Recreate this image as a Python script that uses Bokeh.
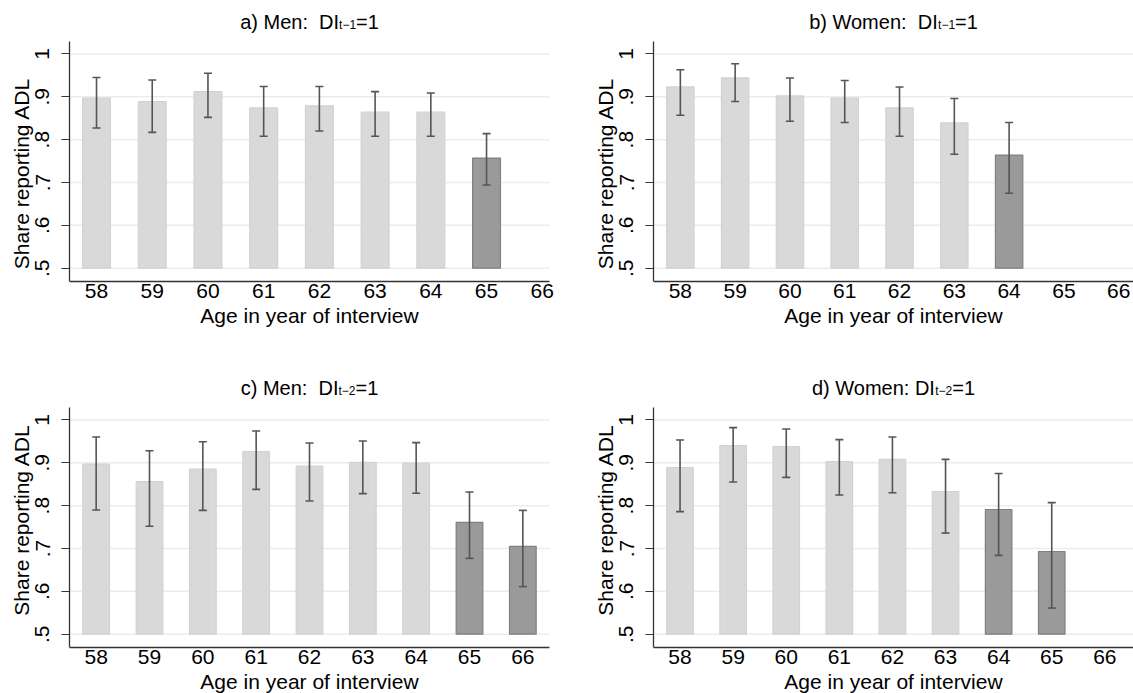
from bokeh.plotting import figure
from bokeh.layouts import gridplot
from bokeh.models import (ColumnDataSource, FixedTicker, Range1d, Whisker, TeeHead, Label)
from bokeh.embed import file_html
from bokeh.resources import INLINE

# ---------------- data ----------------
ages_a = [58, 59, 60, 61, 62, 63, 64, 65]
share_a = [0.897, 0.889, 0.912, 0.874, 0.879, 0.864, 0.864, 0.757]
lo_a = [0.827, 0.817, 0.852, 0.808, 0.820, 0.808, 0.808, 0.694]
hi_a = [0.945, 0.939, 0.955, 0.924, 0.924, 0.912, 0.909, 0.814]
dark_a = [65]

ages_b = [58, 59, 60, 61, 62, 63, 64]
share_b = [0.923, 0.944, 0.902, 0.897, 0.874, 0.839, 0.764]
lo_b = [0.857, 0.889, 0.843, 0.840, 0.808, 0.766, 0.675]
hi_b = [0.963, 0.977, 0.944, 0.938, 0.923, 0.896, 0.840]
dark_b = [64]

ages_c = [58, 59, 60, 61, 62, 63, 64, 65, 66]
share_c = [0.897, 0.856, 0.885, 0.926, 0.892, 0.901, 0.899, 0.761, 0.705]
lo_c = [0.790, 0.752, 0.789, 0.838, 0.811, 0.828, 0.829, 0.677, 0.611]
hi_c = [0.960, 0.928, 0.949, 0.974, 0.946, 0.951, 0.947, 0.832, 0.789]
dark_c = [65, 66]

ages_d = [58, 59, 60, 61, 62, 63, 64, 65]
share_d = [0.889, 0.940, 0.938, 0.903, 0.908, 0.833, 0.791, 0.693]
lo_d = [0.786, 0.855, 0.866, 0.825, 0.830, 0.736, 0.684, 0.561]
hi_d = [0.953, 0.982, 0.979, 0.954, 0.960, 0.908, 0.875, 0.807]
dark_d = [64, 65]

x_ticks = [58, 59, 60, 61, 62, 63, 64, 65, 66]
y_ticks = [0.5, 0.6, 0.7, 0.8, 0.9, 1.0]
y_tick_labels = [".5", ".6", ".7", ".8", ".9", "1"]

NB = "\u00a0"
titles = [("a) Men:" + NB + " DI", "t\u22121", "=1"),
          ("b) Women:" + NB + " DI", "t\u22121", "=1"),
          ("c) Men:" + NB + " DI", "t\u22122", "=1"),
          ("d) Women: DI", "t\u22122", "=1")]
x_label = "Age in year of interview"
y_label = "Share reporting ADL"

# ---------------- style ----------------
FONT = "Liberation Sans"
LIGHT_FILL, LIGHT_LINE = "#d9d9d9", "#d2d2d2"
DARK_FILL, DARK_LINE = "#9a9a9a", "#808080"
ERR = "#555555"
AXIS = "#333333"
GRID = "#e6eef0"
Y_LO, Y_HI = 0.469, 1.029   # visible axis span

# Arial / Liberation Sans advance widths (per 1000 em)
W = {" ": 278, NB: 278, ")": 333, ":": 278, "=": 584, "1": 556, "2": 556,
     "a": 556, "b": 556, "c": 500, "d": 556, "e": 556, "n": 556, "m": 833,
     "o": 556, "t": 278, "M": 833, "W": 944, "D": 722, "I": 278,
     "\u2212": 584}


def tw(s, size):
    return sum(W.get(ch, 556) for ch in s) * size / 1000.0


def make_panel(ages, share, lo, hi, dark, title, xspan, width, height,
               axis_left, axis_right, axis_top, axis_bottom):
    # frame fills the figure except the left axis panel; axes drawn inside
    x_lo, x_hi = xspan
    ppx = (axis_right - axis_left) / (x_hi - x_lo)
    x_end = x_hi + (width - axis_right) / ppx
    ppu = (axis_bottom - axis_top) / (Y_HI - Y_LO)
    y_end = Y_HI + axis_top / ppu
    y_start = Y_LO - (height - axis_bottom) / ppu
    p = figure(width=width, height=height, output_backend="svg",
               toolbar_location=None, x_range=Range1d(x_lo, x_end),
               y_range=Range1d(y_start, y_end),
               min_border_left=axis_left, min_border_right=0,
               min_border_top=0, min_border_bottom=0)
    p.outline_line_color = None
    p.background_fill_color = "white"
    p.border_fill_color = "white"

    # horizontal grid lines, limited to the axis span
    p.xgrid.visible = False
    p.ygrid.visible = False
    p.segment(x0=[x_lo] * len(y_ticks), x1=[x_hi] * len(y_ticks),
              y0=y_ticks, y1=y_ticks, line_color=GRID, line_width=1.5)

    fills = [DARK_FILL if a in dark else LIGHT_FILL for a in ages]
    lines = [DARK_LINE if a in dark else LIGHT_LINE for a in ages]
    src = ColumnDataSource(dict(x=ages, top=share, lo=lo, hi=hi,
                                fill=fills, line=lines))
    p.vbar(x="x", top="top", bottom=0.5, width=0.5, source=src,
           fill_color="fill", line_color="line", line_width=1.2)
    wh = Whisker(source=src, base="x", upper="hi", lower="lo",
                 line_color=ERR, line_width=1.6, level="annotation",
                 upper_head=TeeHead(size=8, line_color=ERR, line_width=1.6),
                 lower_head=TeeHead(size=8, line_color=ERR, line_width=1.6))
    p.add_layout(wh)

    # x axis (pinned at the bottom of the visible span)
    xa = p.xaxis[0]
    xa.fixed_location = Y_LO
    xa.bounds = (x_lo, x_hi)
    xa.ticker = FixedTicker(ticks=x_ticks)
    xa.major_tick_out = 0
    xa.major_tick_in = 0
    xa.minor_tick_out = 0
    xa.axis_line_color = AXIS
    xa.axis_line_width = 1.3
    xa.major_label_text_font = FONT
    xa.major_label_text_font_size = "21px"
    xa.major_label_text_color = "black"
    xa.major_label_standoff = 2
    xa.axis_label = x_label
    xa.axis_label_text_font = FONT
    xa.axis_label_text_font_size = "21px"
    xa.axis_label_text_font_style = "normal"
    xa.axis_label_text_color = "black"
    xa.axis_label_standoff = 3

    # y axis
    ya = p.yaxis[0]
    ya.bounds = (Y_LO, Y_HI)
    ya.ticker = FixedTicker(ticks=y_ticks)
    ya.major_label_overrides = {t: l for t, l in zip(y_ticks, y_tick_labels)}
    ya.major_label_orientation = "vertical"
    ya.major_tick_out = 8
    ya.major_tick_in = 0
    ya.minor_tick_out = 0
    ya.major_tick_line_color = AXIS
    ya.major_tick_line_width = 1.2
    ya.axis_line_color = AXIS
    ya.axis_line_width = 1.3
    ya.major_label_text_font = FONT
    ya.major_label_text_font_size = "21px"
    ya.major_label_text_color = "black"
    ya.major_label_standoff = 12
    ya.axis_label = y_label
    ya.axis_label_text_font = FONT
    ya.axis_label_text_font_size = "21px"
    ya.axis_label_text_font_style = "normal"
    ya.axis_label_text_color = "black"
    ya.axis_label_standoff = 0

    # title with subscript, centred over the axis span
    main, sub, tail = title
    w_main, w_sub, w_tail = tw(main, 20), tw(sub, 12), tw(tail, 20)
    total = w_main + w_sub + w_tail
    xmid = (x_lo + x_hi) / 2.0
    x0 = -total / 2.0
    common = dict(x=xmid, y=Y_HI, x_units="data", y_units="data",
                  text_font=FONT, text_color="black",
                  text_baseline="alphabetic", text_align="left")
    p.add_layout(Label(text=main, x_offset=x0, y_offset=20,
                       text_font_size="20px", **common))
    p.add_layout(Label(text=sub, x_offset=x0 + w_main, y_offset=17,
                       text_font_size="12px", **common))
    p.add_layout(Label(text=tail, x_offset=x0 + w_main + w_sub, y_offset=20,
                       text_font_size="20px", **common))
    return p


pa = make_panel(ages_a, share_a, lo_a, hi_a, dark_a, titles[0],
                (57.515, 66.13), 566, 346, 69, 549, 41, 281)
pb = make_panel(ages_b, share_b, lo_b, hi_b, dark_b, titles[1],
                (57.51, 66.27), 567, 346, 87, 567, 41, 281)
pc = make_panel(ages_c, share_c, lo_c, hi_c, dark_c, titles[2],
                (57.5, 66.5), 566, 347, 69, 549, 61, 301)
pd = make_panel(ages_d, share_d, lo_d, hi_d, dark_d, titles[3],
                (57.5, 66.54), 567, 347, 87, 567, 61, 301)

p = gridplot([[pa, pb], [pc, pd]], toolbar_location=None)

open("out.html", "w").write(file_html(p, INLINE))
